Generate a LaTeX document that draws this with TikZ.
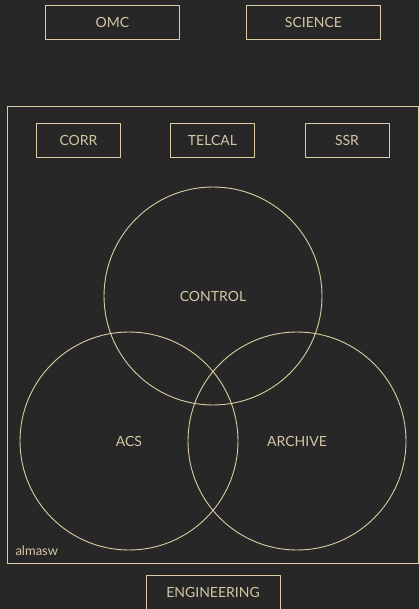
\documentclass[tikz,border=0pt]{standalone}
\usepackage{fontspec}
\setmainfont{Lato}
\usepackage{xcolor}
\definecolor{bgdark}{HTML}{272727}
\definecolor{sand}{HTML}{DCCDA4}
\definecolor{sandtext}{HTML}{D2C6A6}
\usetikzlibrary{positioning}

\begin{document}
\begin{tikzpicture}[line cap=round,line join=round,x=1pt,y=-1pt,
  every node/.style={text=sandtext,font=\fontsize{14}{16}\selectfont},
  pkg/.style={draw=sand,line width=1pt,minimum width=134pt,minimum height=34pt,inner sep=0pt},
  sub/.style={draw=sand,line width=0.9pt,minimum width=84pt,minimum height=34pt,inner sep=0pt},
  venn/.style={draw=sand,line width=0.9pt,circle,minimum size=218pt,inner sep=0pt}]
\fill[bgdark] (0,0) rectangle (419,609);
\useasboundingbox (0,0) rectangle (419,609);
% outside packages
\node[pkg] (omc) at (112.5,22.5) {OMC};
\node[pkg] (science) at (313.5,22.5) {SCIENCE};
\node[pkg] (engineering) at (213,592.5) {ENGINEERING};
% almasw frame
\draw[sand,line width=1.8pt] (7.5,106.5) rectangle (418.5,563.5);
\node[anchor=south west,font=\fontsize{13}{15}\selectfont] (almasw) at (12,559) {almasw};
\node[sub] (corr) at (78.5,140) {CORR};
\node[sub] (telcal) at (212.5,140) {TELCAL};
\node[sub] (ssr) at (347,140) {SSR};
% subsystem circles
\node[venn] (control) at (213,296) {};
\node[venn] (acs) at (129,441) {};
\node[venn] (archive) at (297,441) {};
\node at (control.center) {CONTROL};
\node at (acs.center) {ACS};
\node at (archive.center) {ARCHIVE};
\end{tikzpicture}
\end{document}
